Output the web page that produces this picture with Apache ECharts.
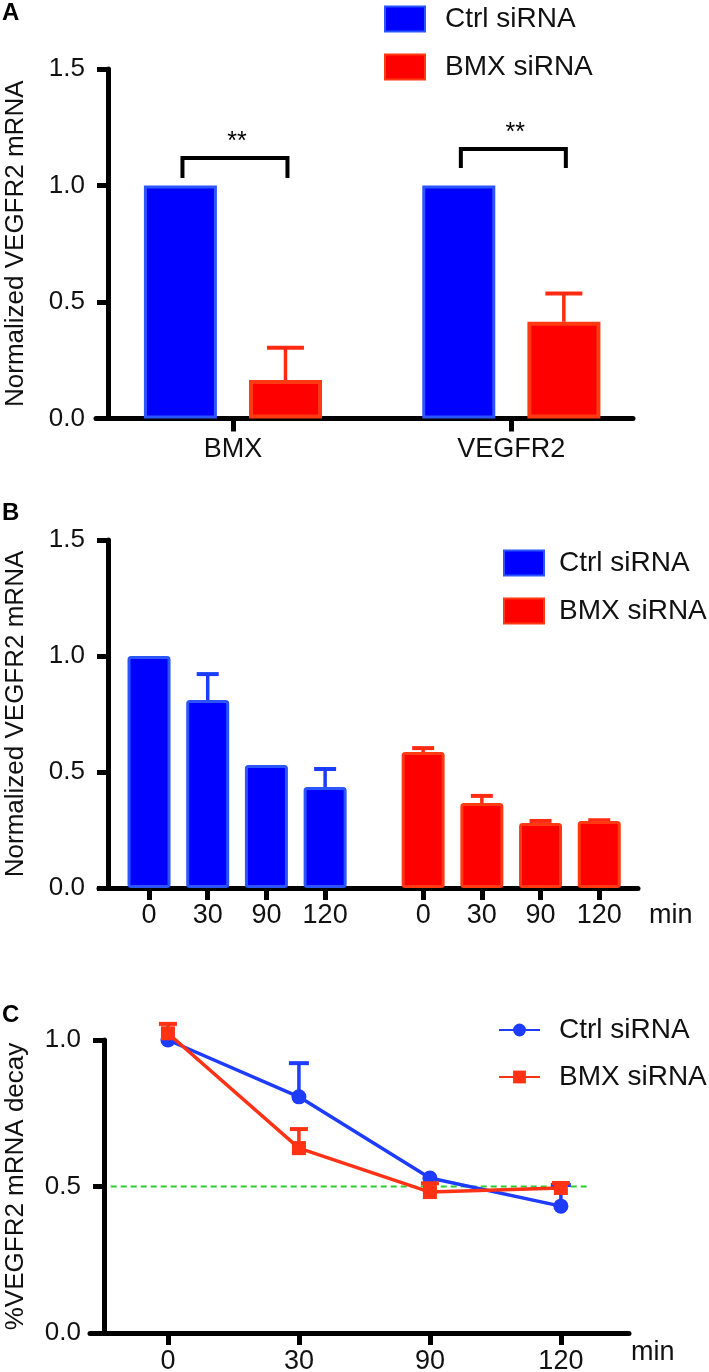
<!DOCTYPE html>
<html><head><meta charset="utf-8">
<script src="https://cdn.jsdelivr.net/npm/echarts@6/dist/echarts.min.js"></script>
<style>
html,body{margin:0;padding:0;background:#fff;width:709px;height:1372px;overflow:hidden}
.p{position:absolute;left:0;width:709px}
</style></head>
<body>
<div id="a" class="p" style="top:0;height:480px"></div>
<div id="b" class="p" style="top:480px;height:480px"></div>
<div id="c" class="p" style="top:960px;height:412px"></div>
<script>
// ---------- data ----------
const seriesNames = ['Ctrl siRNA', 'BMX siRNA'];
const yTitleAB = 'Normalized VEGFR2 mRNA';
const yTitleC = '%VEGFR2 mRNA decay';
const xUnit = 'min';

// Panel A
const catsA = ['BMX', 'VEGFR2'];
const ctrlA = [1.0, 1.0];
const bmxA = [0.165, 0.415];
const bmxAErr = [0.139, 0.122];
const sigA = ['**', '**'];
const sigLevelA = [1.118, 1.157];
const sigLegA = [1.032, 1.075];

// Panel B
const timesB = ['0', '30', '90', '120'];
const ctrlB = [1.0, 0.81, 0.53, 0.435];
const ctrlBErr = [0, 0.112, 0, 0.078];
const bmxB = [0.586, 0.366, 0.28, 0.289];
const bmxBErr = [0.017, 0.031, 0.009, 0.003];

// Panel C
const timesC = ['0', '30', '90', '120'];
const ctrlC = [1.0, 0.806, 0.529, 0.433];
const ctrlCErr = [0, 0.115, 0, 0.072];
const bmxC = [1.023, 0.631, 0.481, 0.495];
const bmxCErr = [0.032, 0.065, 0.03, 0.017];
const refLevel = 0.5;

// ---------- style ----------
const FONT = "'Liberation Sans', Arial, Helvetica, sans-serif";
const TXT = '#111';
const BLUE = '#0000ff', BLUE_EDGE = '#2a55ff';
const RED = '#ff0000', RED_EDGE = '#ff3a12';
const LBLUE = '#1e3cff', LRED = '#ff3216';
const AXW = 5;

function yAxisCfg(name, max, offset, nameGap) {
  return {
    type: 'value', min: 0, max: max, interval: 0.5, offset: offset,
    name: name, nameLocation: 'middle', nameRotate: 90, nameGap: nameGap,
    nameTextStyle: { fontSize: 26, color: TXT, fontFamily: FONT },
    axisLine: { show: true, onZero: false, lineStyle: { color: '#000', width: AXW } },
    axisTick: { show: true, length: 11, lineStyle: { color: '#000', width: AXW } },
    axisLabel: { fontSize: 26, color: TXT, fontFamily: FONT, margin: 23, formatter: v => v.toFixed(1) },
    splitLine: { show: false }
  };
}
function xAxisCfg(min, max, ticks, labels, tickLen, margin, extra) {
  const fmt = v => { for (let i = 0; i < ticks.length; i++) if (Math.abs(ticks[i] - v) < 1e-6) return labels[i]; return ''; };
  return Object.assign({
    type: 'value', min: min, max: max,
    axisLine: { show: true, onZero: false, lineStyle: { color: '#000', width: AXW } },
    axisTick: { show: true, customValues: ticks, length: tickLen, lineStyle: { color: '#000', width: AXW } },
    axisLabel: { customValues: ticks, formatter: fmt, fontSize: 27, color: TXT, fontFamily: FONT, margin: margin },
    splitLine: { show: false }
  }, extra || {});
}
function panelTitle(t, top) {
  return { text: t, left: 2, top: top, padding: 0, textStyle: { fontSize: 24, fontWeight: 'bold', color: '#000', fontFamily: FONT } };
}
function errSeries(data, dx, halfW, color, z) {
  return {
    type: 'custom', name: 'err', z: z, silent: true,
    data: data,
    encode: { x: 0, y: [1, 2] },
    renderItem: (params, api) => {
      const b = api.coord([api.value(0), api.value(1)]);
      const t = api.coord([api.value(0), api.value(2)]);
      const x = b[0] + dx;
      return { type: 'group', children: [
        { type: 'line', shape: { x1: x, y1: b[1], x2: x, y2: t[1] }, style: { stroke: color, lineWidth: 3.5 } },
        { type: 'line', shape: { x1: x - halfW, y1: t[1], x2: x + halfW, y2: t[1] }, style: { stroke: color, lineWidth: 4 } }
      ]};
    }
  };
}
function errData(pos, vals, errs) {
  const out = [];
  vals.forEach((v, i) => { if (errs[i] > 0) out.push([pos[i], v, v + errs[i]]); });
  return out;
}
function legendCfg(left, top, textPad, iw, ih, gap, icon) {
  return {
    orient: 'vertical', left: left, top: top, itemWidth: iw, itemHeight: ih, itemGap: gap,
    selectedMode: false, data: seriesNames.map(n => icon ? { name: n, icon: icon } : n),
    textStyle: { fontSize: 28, color: TXT, fontFamily: FONT, lineHeight: 30, padding: [0, 0, 0, textPad] }
  };
}

// ---------- Panel A ----------
const posA = catsA.map((c, i) => i);
const barOffA = 52.5;
const chartA = echarts.init(document.getElementById('a'));
chartA.setOption({
  animation: false,
  title: panelTitle('A', 1),
  legend: legendCfg(379, -1, 15, 40, 25, 18, 'rect'),
  grid: { left: 96, top: 69, width: 537, height: 349.5, containLabel: false, outerBoundsMode: 'none' },
  xAxis: xAxisCfg(-0.492, 1.437, posA, catsA, 13, 18),
  yAxis: yAxisCfg(yTitleAB, 1.5, -12, 79),
  series: [
    { type: 'bar', name: seriesNames[0], data: ctrlA.map((v, i) => [posA[i], v]), barWidth: 73, barGap: '44%',
      itemStyle: { color: BLUE, borderColor: BLUE_EDGE, borderWidth: 3 }, z: 2 },
    { type: 'bar', name: seriesNames[1], data: bmxA.map((v, i) => [posA[i], v]), barWidth: 73,
      itemStyle: { color: RED, borderColor: RED_EDGE, borderWidth: 4 }, z: 2 },
    errSeries(errData(posA, bmxA, bmxAErr), barOffA, 18.5, '#ff2a12', 1),
    {
      type: 'custom', name: 'sig', silent: true, z: 3,
      data: sigA.map((s, i) => [posA[i], sigLegA[i], sigLevelA[i]]),
      encode: { x: 0, y: [1, 2] },
      renderItem: (params, api) => {
        const leg = api.coord([api.value(0), api.value(1)]);
        const top = api.coord([api.value(0), api.value(2)]);
        const x0 = leg[0] - barOffA + 2, x1 = leg[0] + barOffA + 2;
        return { type: 'group', children: [
          { type: 'polyline', shape: { points: [[x0, leg[1]], [x0, top[1]], [x1, top[1]], [x1, leg[1]]] },
            style: { stroke: '#000', lineWidth: 4, fill: null } },
          { type: 'text', x: leg[0] + 4, y: top[1] - 16,
            style: { text: sigA[params.dataIndex], fontSize: 25, fontFamily: FONT, fill: '#000', align: 'center', verticalAlign: 'middle' } }
        ]};
      }
    }
  ]
});

// ---------- Panel B ----------
const groupShiftB = 4.67;
const posCtrlB = timesB.map((t, i) => i);
const posBmxB = timesB.map((t, i) => groupShiftB + i);
const chartB = echarts.init(document.getElementById('b'));
chartB.setOption({
  animation: false,
  title: panelTitle('B', 21),
  legend: legendCfg(498, 63, 10, 40, 25, 18, 'rect'),
  grid: { left: 99, top: 60, width: 539, height: 348, containLabel: false, outerBoundsMode: 'none' },
  xAxis: xAxisCfg(-0.852, 8.33, posCtrlB.concat(posBmxB), timesB.concat(timesB), 12, 14, {
    name: xUnit, nameLocation: 'end', nameGap: 11,
    nameTextStyle: { fontSize: 27, color: TXT, fontFamily: FONT, align: 'left', verticalAlign: 'top', padding: [14, 0, 0, 0] }
  }),
  yAxis: yAxisCfg(yTitleAB, 1.5, -9, 79),
  series: [
    { type: 'bar', name: seriesNames[0], data: ctrlB.map((v, i) => [posCtrlB[i], v]), barWidth: 43, barGap: '-100%',
      itemStyle: { color: BLUE, borderColor: BLUE_EDGE, borderWidth: 3, borderRadius: 2 }, z: 2 },
    { type: 'bar', name: seriesNames[1], data: bmxB.map((v, i) => [posBmxB[i], v]), barWidth: 43,
      itemStyle: { color: RED, borderColor: RED_EDGE, borderWidth: 3, borderRadius: 2 }, z: 2 },
    errSeries(errData(posCtrlB, ctrlB, ctrlBErr), 0, 11, '#1a3cff', 1),
    errSeries(errData(posBmxB, bmxB, bmxBErr), 0, 11, '#ff2a12', 1)
  ]
});

// ---------- Panel C ----------
const posC = timesC.map((t, i) => i);
const refFrom = -0.437, refTo = 3.22;
const chartC = echarts.init(document.getElementById('c'));
chartC.setOption({
  animation: false,
  title: panelTitle('C', 43),
  legend: legendCfg(493, 50, 14, 41, 16, 17, null),
  grid: { left: 90, top: 80, width: 539, height: 293, containLabel: false, outerBoundsMode: 'none' },
  xAxis: xAxisCfg(-0.595, 3.52, posC, timesC, 12, 15, {
    name: xUnit, nameLocation: 'end', nameGap: 2,
    nameTextStyle: { fontSize: 27, color: TXT, fontFamily: FONT, align: 'left', verticalAlign: 'top', padding: [6, 0, 0, 0] }
  }),
  yAxis: yAxisCfg(yTitleC, 1.0, -14, 75),
  series: [
    { type: 'line', name: 'ref', silent: true, symbol: 'none', z: 1,
      data: [[refFrom, refLevel], [refTo, refLevel]],
      lineStyle: { color: '#2fcc2f', width: 2, type: [6, 4] } },
    errSeries(errData(posC, ctrlC, ctrlCErr), 0, 10, LBLUE, 2),
    { type: 'line', name: seriesNames[0], data: ctrlC.map((v, i) => [posC[i], v]), clip: false, z: 3,
      symbol: 'circle', symbolSize: 15, color: LBLUE,
      lineStyle: { color: LBLUE, width: 3.5 }, itemStyle: { color: LBLUE } },
    errSeries(errData(posC, bmxC, bmxCErr), 0, 9, LRED, 4),
    { type: 'line', name: seriesNames[1], data: bmxC.map((v, i) => [posC[i], v]), clip: false, z: 5,
      symbol: 'rect', symbolSize: 14, color: LRED,
      lineStyle: { color: LRED, width: 3.5 }, itemStyle: { color: LRED } }
  ]
});
</script>
</body></html>
